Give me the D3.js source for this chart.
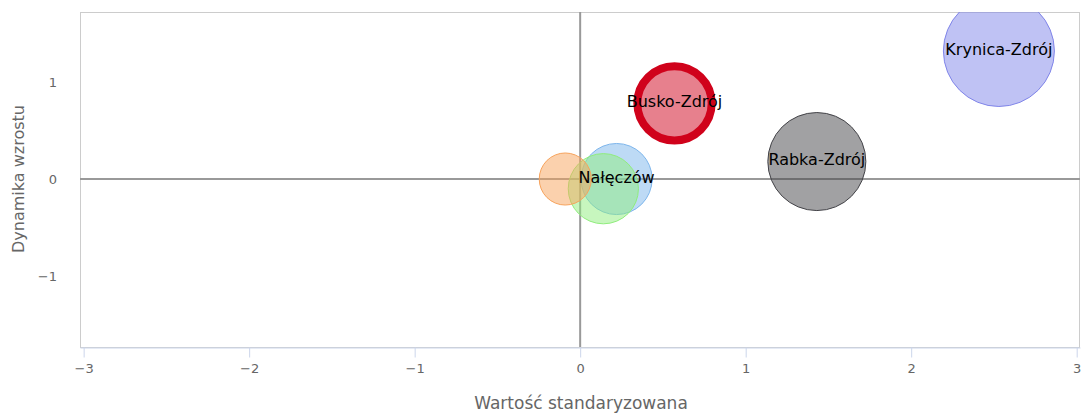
<!DOCTYPE html>
<html><head><meta charset="utf-8">
<script src="https://cdn.jsdelivr.net/npm/d3@7"></script>
<style>body{margin:0;background:#fff;font-family:"DejaVu Sans",sans-serif;}</style>
</head><body><svg id="c" width="1083" height="414"></svg>
<script>
const labelled = ["Nałęczów", "Rabka-Zdrój", "", "", "Krynica-Zdrój", "Busko-Zdrój"];
const xValues = [0.22, 1.43, 0.14, -0.09, 2.53, 0.57];
const yValues = [0.00, 0.18, -0.10, 0.00, 1.32, 0.78];
const zValues = [41, 78, 40, 22, 100, 55];
const colors = ["#7cb5ec", "#434348", "#90ed7d", "#f7a35c", "#8085e9", "#d0021b"];
const strokeW = [1, 1, 1, 1, 1, 8];
const xTicks = [-3, -2, -1, 0, 1, 2, 3];
const yTicks = [-1, 0, 1];

const svg = d3.select("#c");
const L = 80, R = 1080, T = 12, B = 347;
const x = d3.scaleLinear().domain([-3.022, 3.02]).range([L, R]);
const y = d3.scaleLinear().domain([-1.732, 1.722]).range([B, T]);
const r = d3.scaleSqrt().domain([0, 100]).range([0, 55.5]);

svg.append("defs").append("clipPath").attr("id", "clip")
  .append("rect").attr("x", L).attr("y", T).attr("width", R - L).attr("height", B - T);

svg.append("rect").attr("x", L + 0.5).attr("y", T + 0.5).attr("width", R - L - 1).attr("height", B - T)
  .attr("fill", "none").attr("stroke", "#cccccc");

svg.append("line").attr("x1", x(0)).attr("x2", x(0)).attr("y1", T).attr("y2", B)
  .attr("stroke", "#999999").attr("stroke-width", 2);
svg.append("line").attr("x1", L).attr("x2", R).attr("y1", y(0)).attr("y2", y(0))
  .attr("stroke", "#999999").attr("stroke-width", 2);

const xa = svg.append("g").attr("transform", `translate(0,${B + 0.5})`)
  .call(d3.axisBottom(x).tickValues(xTicks).tickFormat(d3.format("d")).tickSize(10).tickPadding(6).tickSizeOuter(0));
xa.select(".domain").attr("stroke", "#ccd6eb");
xa.selectAll(".tick line").attr("stroke", "#ccd6eb");
xa.selectAll("text").attr("fill", "#666666").style("font-size", "13px").style("font-family", "DejaVu Sans");

const ya = svg.append("g").attr("transform", `translate(${L},0)`)
  .call(d3.axisLeft(y).tickValues(yTicks).tickFormat(d3.format("d")).tickSize(0).tickPadding(23));
ya.select(".domain").remove();
ya.selectAll("text").attr("fill", "#666666").style("font-size", "13px").style("font-family", "DejaVu Sans");

svg.append("text").attr("x", 581).attr("y", 409).attr("text-anchor", "middle")
  .attr("fill", "#666666").style("font-size", "17px").text("Wartość standaryzowana");
svg.append("text").attr("transform", `translate(24,${y(0)}) rotate(-90)`).attr("text-anchor", "middle")
  .attr("fill", "#666666").style("font-size", "16px").text("Dynamika wzrostu");

const data = xValues.map((v, i) => ({x: v, y: yValues[i], z: zValues[i], c: colors[i], sw: strokeW[i], label: labelled[i]}));
const g = svg.append("g").attr("clip-path", "url(#clip)");
g.selectAll("circle").data(data).join("circle")
  .attr("cx", d => x(d.x)).attr("cy", d => y(d.y))
  .attr("r", d => r(d.z) - (d.sw > 1 ? 4 : 0))
  .attr("fill", d => d.c).attr("fill-opacity", 0.5)
  .attr("stroke", d => d.c).attr("stroke-width", d => d.sw);

g.selectAll("text").data(data.filter(d => d.label)).join("text")
  .attr("x", d => x(d.x)).attr("y", d => y(d.y) - 2).attr("dy", "0.35em")
  .attr("text-anchor", "middle").attr("fill", "#000").style("font-size", "16px")
  .text(d => d.label);
</script></body></html>
